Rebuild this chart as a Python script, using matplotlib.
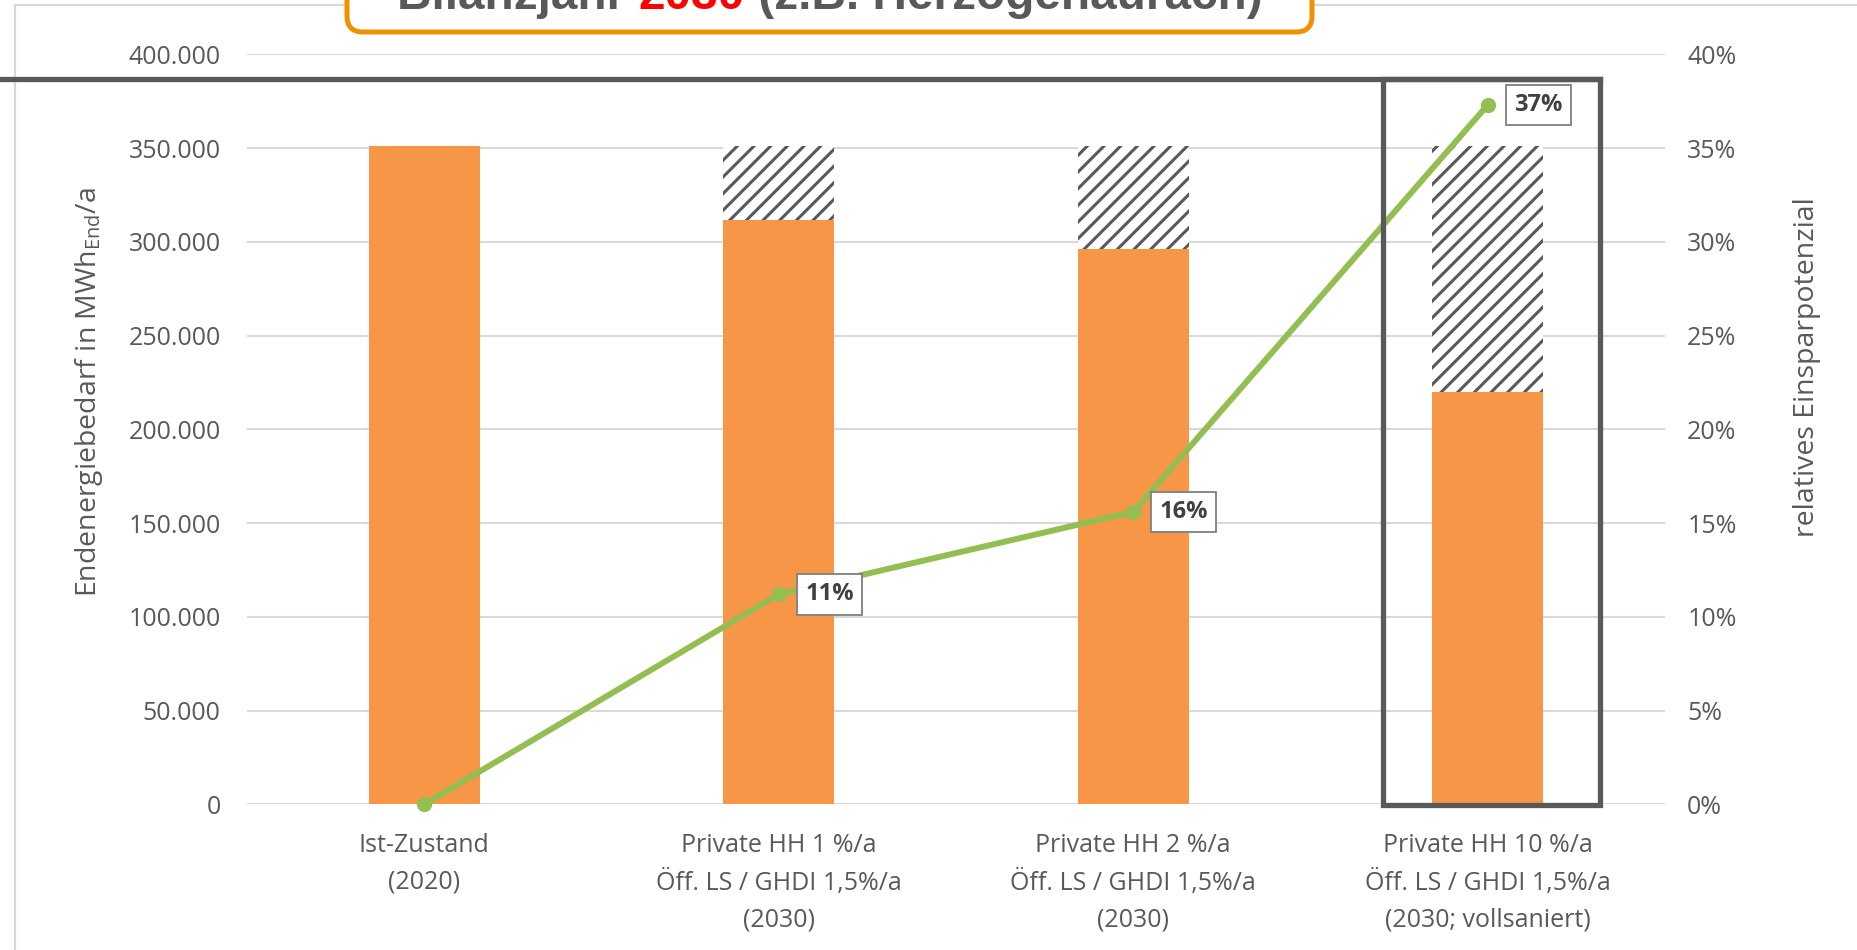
import matplotlib
matplotlib.use("Agg")
import matplotlib.pyplot as plt
import numpy as np
from matplotlib.lines import Line2D
from matplotlib.patches import FancyBboxPatch, Rectangle
from matplotlib.transforms import IdentityTransform

# -------- data --------
categories = [
    "Ist-Zustand\n(2020)",
    "Private HH 1 %/a\nÖff. LS / GHDI 1,5%/a\n(2030)",
    "Private HH 2 %/a\nÖff. LS / GHDI 1,5%/a\n(2030)",
    "Private HH 10 %/a\nÖff. LS / GHDI 1,5%/a\n(2030; vollsaniert)",
]
demand_ref = [351000, 351000, 351000, 351000]   # Ist-Zustand level (hatched upper part)
demand     = [351000, 311500, 296000, 220000]   # MWh_End/a
savings    = [0.0, 0.112, 0.156, 0.373]         # relatives Einsparpotenzial
y_ticks    = [0, 50000, 100000, 150000, 200000, 250000, 300000, 350000, 400000]
y2_ticks   = [0, 0.05, 0.10, 0.15, 0.20, 0.25, 0.30, 0.35, 0.40]

# -------- style --------
ORANGE = "#F79646"
GREEN  = "#93BF52"
GRAY   = "#595959"
GRID   = "#D9D9D9"

plt.rcParams["font.family"] = ["Open Sans", "DejaVu Sans"]
plt.rcParams["mathtext.default"] = "regular"
plt.rcParams["hatch.linewidth"] = 2.2

W, H = 1858, 950
fig = plt.figure(figsize=(W / 100, H / 100), dpi=100)
ax = fig.add_axes([247 / W, 1 - 804.3 / H, (1665 - 247) / W, (804.3 - 54.3) / H])
ax2 = ax.twinx()

x = np.arange(len(categories))
bw = 0.313

ax.bar(x, demand, width=bw, color=ORANGE, zorder=2)
hatch_h = [r - d for r, d in zip(demand_ref, demand)]
ax.bar(x, hatch_h, bottom=demand, width=bw, color="white", edgecolor=GRAY,
       linewidth=0, hatch="//", zorder=2)

ax.set_xlim(-0.5, len(categories) - 0.5)
ax.set_ylim(0, 400000)
ax.set_yticks(y_ticks)
ax.set_yticklabels([f"{v:,}".replace(",", ".") for v in y_ticks])
ax.set_xticks(x)
ax.set_xticklabels(categories, linespacing=1.58)
ax.grid(axis="y", color=GRID, linewidth=1.5)
ax.set_axisbelow(True)
ax.tick_params(axis="y", length=0, pad=19, labelsize=18, labelcolor=GRAY)
ax.tick_params(axis="x", length=0, pad=21, labelsize=18, labelcolor=GRAY)
for s in ax.spines.values():
    s.set_visible(False)
ax.set_ylabel("Endenergiebedarf in MWh$_{End}$/a", fontsize=20.5, color=GRAY)
ax.yaxis.set_label_coords(-0.100, 0.55)

# -------- line (right axis) --------
ax2.plot(x, savings, color=GREEN, linewidth=4.3, marker="o", markersize=10,
         clip_on=False, zorder=3)
ax2.set_ylim(0, 0.40)
ax2.set_yticks(y2_ticks)
ax2.set_yticklabels([f"{v * 100:.0f}%" for v in y2_ticks])
ax2.tick_params(axis="y", length=0, pad=16, labelsize=18, labelcolor=GRAY)
for s in ax2.spines.values():
    s.set_visible(False)
ax2.set_ylabel("relatives Einsparpotenzial", fontsize=20.5, color=GRAY)
ax2.yaxis.set_label_coords(1.0905, 0.583)

for xi, p in zip(x, savings):
    if p <= 0:
        continue
    ax2.annotate(f"{p * 100:.0f}%", (xi, p), xytext=(19, 0), textcoords="offset points",
                 ha="left", va="center", fontsize=17, fontweight="bold", color="#404040",
                 bbox=dict(boxstyle="square,pad=0.35", fc="white", ec="#7F7F7F", lw=1.3),
                 zorder=5)

# -------- frame + overlays (pixel coords) --------
ident = IdentityTransform()
fig.add_artist(Line2D([15, 15], [H - 5, 0], color=GRID, lw=1.6, transform=ident))
fig.add_artist(Line2D([15, W], [H - 5, H - 5], color=GRID, lw=1.6, transform=ident))

fig.add_artist(FancyBboxPatch((347, H - 32), 1312 - 347, 80,
                              boxstyle="round,pad=0,rounding_size=16",
                              fc="white", ec="#F29100", lw=3.6, transform=ident, zorder=10))
TS = 34.4
t1 = fig.text(397, H - 9, "Bilanzjahr ", transform=ident, fontsize=TS, fontweight="bold",
              color=GRAY, family="Liberation Sans", va="baseline", ha="left", zorder=11)
t2 = fig.text(0, 0, "2030", fontsize=TS, fontweight="bold", color="#FF0000",
              family="Liberation Sans", zorder=11)
t3 = fig.text(0, 0, " (z.B. Herzogenaurach)", fontsize=TS, fontweight="bold", color=GRAY,
              family="Liberation Sans", zorder=11)
fig.canvas.draw()
r = fig.canvas.get_renderer()
xx = t1.get_window_extent(r).x1
t2.set_transform(ident); t2.set_position((xx, H - 9)); t2.set_va("baseline")
xx = t2.get_window_extent(r).x1
t3.set_transform(ident); t3.set_position((xx, H - 9)); t3.set_va("baseline")

fig.add_artist(Line2D([0, 1600], [H - 79, H - 79], color=GRAY, lw=3.8,
                      transform=ident, zorder=20))
fig.add_artist(Rectangle((1383, H - 805), 1600 - 1383, 805 - 79, fill=False,
                         ec=GRAY, lw=3.8, transform=ident, zorder=20))

fig.savefig("out.png", dpi=100, facecolor="white")
